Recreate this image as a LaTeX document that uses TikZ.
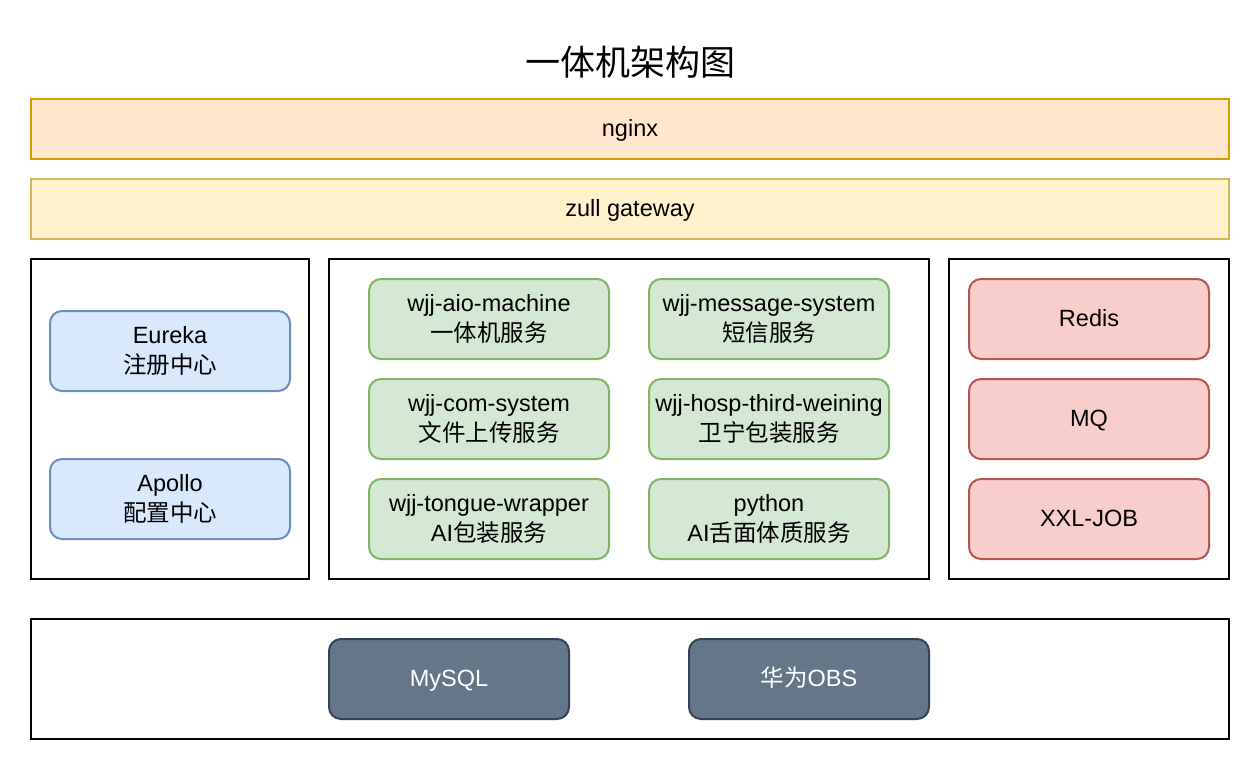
\documentclass[tikz,border=0pt]{standalone}
\usepackage{fontspec}
\setmainfont{Liberation Sans}
\newfontfamily\cjk{Noto Sans CJK SC}
\definecolor{orfill}{HTML}{FFE6CC}\definecolor{ordraw}{HTML}{D79B00}
\definecolor{yefill}{HTML}{FFF2CC}\definecolor{yedraw}{HTML}{D6B656}
\definecolor{grfill}{HTML}{D5E8D4}\definecolor{grdraw}{HTML}{82B366}
\definecolor{blfill}{HTML}{DAE8FC}\definecolor{bldraw}{HTML}{6C8EBF}
\definecolor{rdfill}{HTML}{F8CECC}\definecolor{rddraw}{HTML}{B85450}
\definecolor{dkfill}{HTML}{647687}\definecolor{dkdraw}{HTML}{314354}
\newcommand{\eqh}{\vphantom{{\cjk 华}Ag}}
\tikzset{
  box/.style={draw, line width=2pt, anchor=north west, inner sep=0pt, outer sep=0pt, align=center,
    font=\fontsize{23.5}{30}\selectfont},
  plain/.style={box, draw=black, fill=white},
  bar/.style={box, minimum width=1198pt, minimum height=60pt},
  svc/.style={box, rounded corners=12pt, minimum width=240pt, minimum height=80pt},
  green/.style={svc, fill=grfill, draw=grdraw},
  blue/.style={svc, fill=blfill, draw=bldraw},
  red/.style={svc, fill=rdfill, draw=rddraw},
  dark/.style={svc, fill=dkfill, draw=dkdraw, text=white},
}
\begin{document}
\begin{tikzpicture}[x=1pt,y=-1pt]
\useasboundingbox (0,0) rectangle (1260,770);
\node (title) at (630,62) {\cjk\fontsize{35}{40}\selectfont 一体机架构图};
\node[bar, fill=orfill, draw=ordraw] (nginx) at (31,99) {\eqh nginx};
\node[bar, fill=yefill, draw=yedraw] (zuul) at (31,179) {\eqh zull gateway};
\node[plain, minimum width=278pt, minimum height=320pt] (left) at (31,259) {};
\node[plain, minimum width=600pt, minimum height=320pt] (mid) at (329,259) {};
\node[plain, minimum width=280pt, minimum height=320pt] (right) at (949,259) {};
\node[plain, minimum width=1198pt, minimum height=120pt] (bottom) at (31,619) {};
\node[blue] (eureka) at (50,311) {Eureka\\{\cjk 注册中心}};
\node[blue] (apollo) at (50,459) {Apollo\\{\cjk 配置中心}};
\node[green] (aio) at (369,279) {wjj-aio-machine\\{\cjk 一体机服务}};
\node[green] (msg) at (649,279) {wjj-message-system\\{\cjk 短信服务}};
\node[green] (com) at (369,379) {wjj-com-system\\{\cjk 文件上传服务}};
\node[green] (hosp) at (649,379) {wjj-hosp-third-weining\\{\cjk 卫宁包装服务}};
\node[green] (tongue) at (369,479) {wjj-tongue-wrapper\\AI{\cjk 包装服务}};
\node[green] (python) at (649,479) {python\\AI{\cjk 舌面体质服务}};
\node[red] (redis) at (969,279) {\eqh Redis};
\node[red] (mq) at (969,379) {\eqh MQ};
\node[red] (xxl) at (969,479) {\eqh XXL-JOB};
\node[dark] (mysql) at (329,639) {\eqh MySQL};
\node[dark] (obs) at (689,639) {\eqh{\cjk 华为}OBS};
\end{tikzpicture}
\end{document}
